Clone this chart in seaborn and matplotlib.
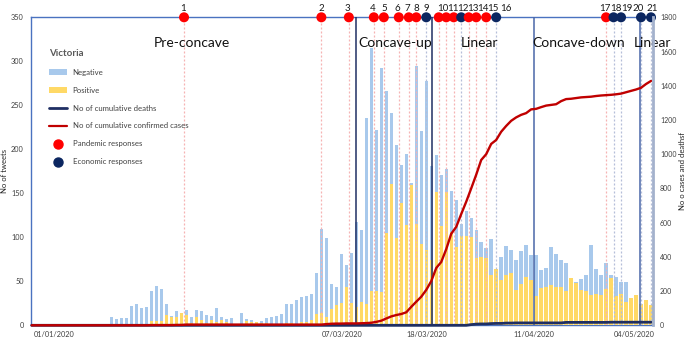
import matplotlib
matplotlib.use("Agg")
import matplotlib.pyplot as plt
import seaborn as sns
import pandas as pd
from matplotlib.lines import Line2D
from matplotlib.patches import Patch

# ---------------- data (day index 0 = 01/01/2020 ... 124 = 04/05/2020) ----------------
negative = [0, 0, 0, 0, 0, 0, 0, 0, 0, 0, 0, 0, 0, 0, 2, 0, 10, 7, 8, 8,
            22, 24, 20, 21, 39, 45, 41, 24, 11, 16, 12, 17, 10, 17, 16, 12, 11, 20, 10, 7,
            8, 0, 14, 7, 6, 4, 5, 8, 9, 11, 13, 24, 24, 29, 32, 33, 36, 60, 110, 99,
            47, 44, 81, 69, 82, 117, 108, 236, 315, 222, 292, 266, 241, 205, 182, 195, 162, 295, 221, 278,
            181, 194, 171, 178, 153, 142, 115, 130, 122, 108, 95, 88, 98, 62, 78, 90, 86, 74, 84, 91,
            80, 80, 63, 65, 89, 81, 74, 71, 50, 49, 53, 57, 91, 64, 57, 71, 57, 55, 49, 49,
            20, 22, 18, 20, 15]
positive = [0, 0, 0, 0, 0, 0, 0, 0, 0, 0, 0, 0, 0, 0, 0, 0, 0, 0, 0, 0,
            0, 0, 0, 0, 5, 5, 5, 12, 9, 10, 14, 12, 3, 10, 6, 3, 6, 4, 6, 4,
            1, 0, 0, 5, 4, 4, 3, 3, 0, 0, 0, 3, 3, 0, 4, 4, 6, 13, 14, 10,
            18, 23, 25, 43, 25, 21, 26, 24, 39, 39, 38, 105, 161, 99, 139, 114, 159, 115, 92, 86,
            74, 151, 113, 151, 106, 89, 102, 101, 100, 76, 78, 77, 57, 64, 52, 57, 60, 40, 47, 55,
            52, 33, 42, 44, 46, 44, 44, 39, 54, 48, 40, 39, 35, 36, 35, 41, 54, 33, 36, 26,
            31, 34, 24, 29, 23]
cases = [0, 0, 0, 0, 0, 0, 0, 0, 0, 0, 0, 0, 0, 0, 0, 0, 0, 0, 0, 0,
         0, 0, 0, 0, 1, 1, 1, 1, 1, 2, 2, 4, 4, 4, 4, 4, 4, 4, 4, 4,
         4, 4, 4, 4, 4, 4, 4, 4, 4, 4, 4, 4, 4, 4, 4, 4, 4, 4, 4, 7,
         9, 10, 10, 11, 11, 11, 12, 13, 15, 20, 27, 40, 52, 60, 66, 76, 108, 138, 167, 207,
         258, 335, 370, 445, 535, 575, 650, 722, 800, 880, 966, 1000, 1060, 1083, 1131, 1165, 1195, 1215, 1230, 1240,
         1262, 1265, 1275, 1284, 1288, 1292, 1310, 1322, 1324, 1328, 1332, 1334, 1336, 1340, 1343, 1345, 1347, 1350, 1354, 1362,
         1370, 1378, 1388, 1410, 1428]
deaths = [0, 0, 0, 0, 0, 0, 0, 0, 0, 0, 0, 0, 0, 0, 0, 0, 0, 0, 0, 0,
          0, 0, 0, 0, 0, 0, 0, 0, 0, 0, 0, 0, 0, 0, 0, 0, 0, 0, 0, 0,
          0, 0, 0, 0, 0, 0, 0, 0, 0, 0, 0, 0, 0, 0, 0, 0, 0, 0, 0, 0,
          0, 0, 0, 0, 0, 0, 0, 0, 0, 0, 0, 0, 0, 0, 0, 0, 0, 0, 0, 0,
          0, 0, 0, 0, 0, 0, 0, 0, 4, 7, 8, 8, 10, 11, 11, 13, 13, 14, 14, 14,
          14, 14, 14, 14, 14, 14, 14, 17, 17, 17, 17, 17, 17, 17, 17, 17, 18, 18, 18, 18,
          18, 18, 18, 18, 18]

response_days = [30.5, 58, 63.5, 68.5, 70.5, 73.5, 75.5, 77, 79, 81.5, 83, 84.5, 86, 87.5,
                 89, 91, 93, 115, 116.5, 118, 122, 124]
response_type = ["P", "P", "P", "P", "P", "P", "P", "P", "E", "P", "P", "P", "E", "P",
                 "P", "P", "E", "P", "E", "E", "E", "E"]
response_labels = [str(k) for k in range(1, 22)]
response_label_pos = [30.4, 58.0, 63.2, 68.3, 70.5, 73.3, 75.3, 77.1, 79.1, 82.3, 84.3, 86.3,
                      88.3, 90.3, 92.3, 94.9, 114.8, 116.9, 119.2, 121.4, 124.3]

phase_names = ["Pre-concave", "Concave-up", "Linear", "Concave-down", "Linear"]
phase_label_pos = [32.1, 72.8, 89.6, 109.6, 124.2]
phase_bounds = [64.9, 80.2, 100.6, 121.8]

xtick_labels = ["01/01/2020", "07/03/2020", "18/03/2020", "11/04/2020", "04/05/2020"]
xtick_pos = [4.5, 62.1, 79.1, 100.6, 120.7]

days = list(range(len(negative)))
df = pd.DataFrame({"day": days, "negative": negative, "positive": positive,
                   "cases": cases, "deaths": deaths})

# ---------------- style ----------------
sns.set_style("white")
plt.rcParams["font.family"] = ["Lato", "DejaVu Sans"]
NARROW = ["Liberation Sans Narrow", "Lato", "DejaVu Sans"]

BLUE = "#A8C9EC"
YELLOW = "#FFD966"
NAVY = "#1F2F63"
RED = "#C00000"
PRED = "#FF0000"
ENAVY = "#0B2660"

fig = plt.figure(figsize=(6.85, 3.39), dpi=100)
ax = fig.add_axes([30.7 / 685, 13.7 / 339, (653 - 30.7) / 685, (325.3 - 17.3) / 339])

sns.barplot(data=df, x="day", y="negative", color=BLUE, saturation=1, width=0.68,
            linewidth=0, ax=ax, zorder=2)
sns.barplot(data=df, x="day", y="positive", color=YELLOW, saturation=1, width=0.68,
            linewidth=0, ax=ax, zorder=3)

# response dotted lines and markers
vcols = ["#F6B3B3" if t == "P" else "#B5BED9" for t in response_type]
ax.vlines(response_days, 0, 350, colors=vcols, linestyles=(0, (1.6, 1.6)), lw=0.9, zorder=4)
mcols = [PRED if t == "P" else ENAVY for t in response_type]
ax.scatter(response_days, [350] * len(response_days), s=52, c=mcols, zorder=6,
           clip_on=False, linewidths=0)
for lab, xp in zip(response_labels, response_label_pos):
    ax.text(xp, 1.022, lab, transform=ax.get_xaxis_transform(), ha="center",
            va="baseline", fontsize=7, color="#1a1a1a", family=NARROW)

# phase boundaries
bcols = [NAVY, NAVY, "#4A67A8", "#4A67A8"]
ax.vlines(phase_bounds, 0, 350, colors=bcols, lw=1.1, zorder=5)
for name, xp in zip(phase_names, phase_label_pos):
    ax.text(xp, 320.8, name, ha="center", va="center", fontsize=10, color="#111111", zorder=7)

ax.set_xlim(-0.2, 124.4)
ax.set_ylim(0, 350)
ax.set_yticks(range(0, 351, 50))
ax.set_xticks(xtick_pos)
ax.set_xticklabels(xtick_labels)
ax.tick_params(axis="both", length=0, labelsize=5.3, colors="#404040")
ax.tick_params(axis="y", pad=5)
ax.tick_params(axis="x", pad=4)
ax.set_xlabel("")
ax.set_ylabel("No of tweets", fontsize=5.5, color="#202020")
ax.yaxis.set_label_coords(-0.037, 0.5)
for s in ["left", "top", "bottom"]:
    ax.spines[s].set_color("#4A72C0")
    ax.spines[s].set_linewidth(1.0)
ax.spines["right"].set_visible(False)

# cumulative lines on right axis
ax2 = ax.twinx()
sns.lineplot(data=df, x="day", y="deaths", color=NAVY, lw=2.0, ax=ax2, clip_on=False)
sns.lineplot(data=df, x="day", y="cases", color=RED, lw=1.7, ax=ax2, clip_on=False)
ax2.set_xlim(-0.2, 124.4)
ax2.set_ylim(0, 1800)
ax2.set_yticks(range(0, 1801, 200))
ax2.tick_params(axis="y", length=0, labelsize=5, pad=5, colors="#404040")
ax2.set_ylabel("No o cases and deathsf", fontsize=5.5, color="#202020")
ax2.yaxis.set_label_coords(1.041, 0.5)
for s in ["left", "top", "bottom"]:
    ax2.spines[s].set_visible(False)
ax2.spines["right"].set_color("#A3B1CC")
ax2.spines["right"].set_linewidth(2.0)

handles = [Patch(fc=BLUE, ec="none"), Patch(fc=YELLOW, ec="none"),
           Line2D([], [], color=NAVY, lw=2), Line2D([], [], color=RED, lw=1.6),
           Line2D([], [], marker="o", ls="", color=PRED, ms=6.5),
           Line2D([], [], marker="o", ls="", color=ENAVY, ms=6.5)]
labels = ["Negative", "Positive", "No of cumulative deaths", "No of cumulative confirmed cases",
          "Pandemic responses", "Economic responses"]
leg = ax2.legend(handles, labels, title="Victoria", loc="upper left",
                 bbox_to_anchor=(45 / 685, 1 - 45 / 339), bbox_transform=fig.transFigure,
                 frameon=False, fontsize=5.6, alignment="left", labelspacing=1.4,
                 handlelength=2.3, handleheight=0.7, handletextpad=0.75, borderpad=0,
                 title_fontproperties={"weight": "bold", "size": 7})
leg.get_title().set_color("#595959")
for t in leg.get_texts():
    t.set_color("#404040")

fig.savefig("out.png", dpi=100, facecolor="white")
